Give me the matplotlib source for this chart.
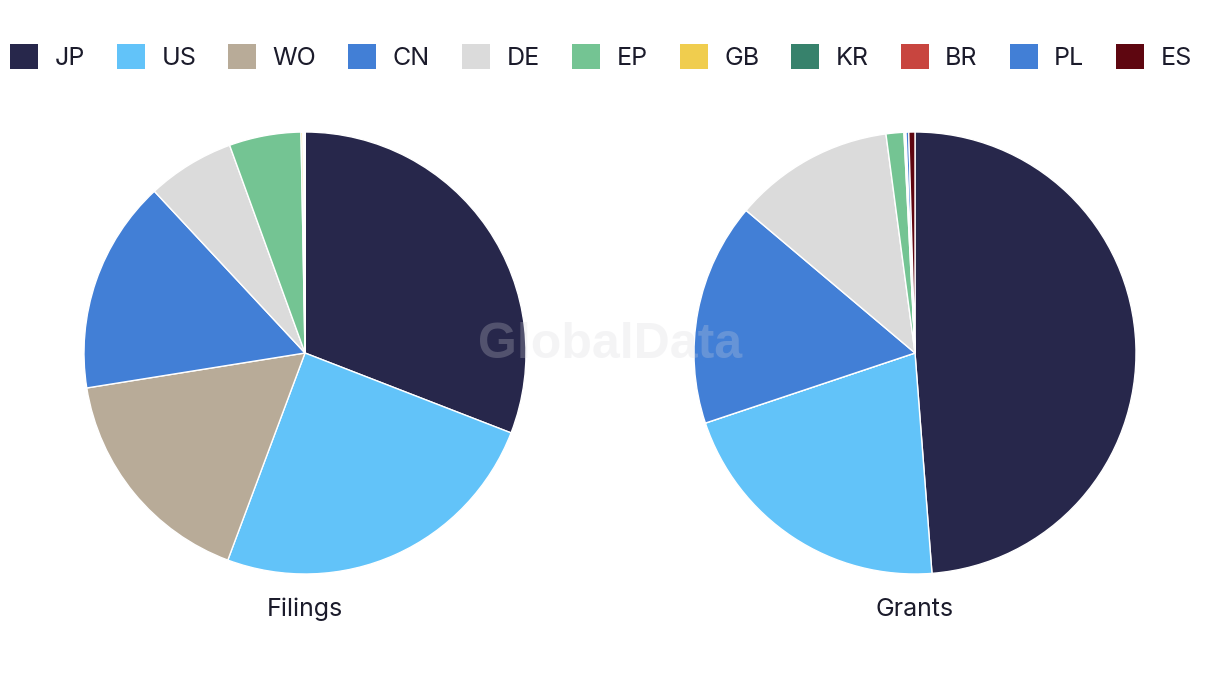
import matplotlib.pyplot as plt
from matplotlib.patches import Patch

# Share of patents by country (%)
countries = ["JP", "US", "WO", "CN", "DE", "EP", "GB", "KR", "BR", "PL", "ES"]
filings = [30.9, 24.8, 16.8, 15.6, 6.4, 5.25, 0.15, 0.02, 0.1, 0.02, 0.0]
grants = [48.8, 21.1, 0.0, 16.3, 11.75, 1.3, 0.1, 0.05, 0.0, 0.2, 0.45]
pie_titles = ["Filings", "Grants"]

colors = ["#27274b", "#62c3f9", "#b8ab98", "#427fd6", "#dbdbdb", "#74c493",
          "#f0cd4e", "#37826c", "#c8453f", "#427fd6", "#5e0610"]

plt.rcParams["font.family"] = ["Inter", "DejaVu Sans"]

W, H = 1220, 686
fig = plt.figure(figsize=(W / 100, H / 100), dpi=100)

r = 221
for cx, values, title in [(305, filings, pie_titles[0]), (915, grants, pie_titles[1])]:
    ax = fig.add_axes([(cx - r) / W, (H - 353 - r) / H, 2 * r / W, 2 * r / H])
    ax.pie(values, colors=colors, startangle=90, counterclock=False,
           wedgeprops=dict(edgecolor="white", linewidth=1.0))
    ax.set_xlim(-1.0, 1.0)
    ax.set_ylim(-1.0, 1.0)
    ax.set_aspect("equal")
    ax.axis("off")
    fig.text(cx / W, 1 - 609 / H, title, ha="center", va="center",
             fontsize=18, color="#1b1b2b")

# watermark
fig.text(610 / W, 1 - 345 / H, "GlobalData", ha="center", va="center",
         fontsize=36, fontweight="bold", color="#d4d4da", alpha=0.25,
         family=["Liberation Sans", "DejaVu Sans"], zorder=10)

handles = [Patch(facecolor=c, edgecolor="none") for c in colors]
fig.legend(handles, countries, loc="center", bbox_to_anchor=(601 / W, 1 - 57 / H),
           ncol=len(countries), frameon=False, fontsize=18,
           handlelength=1.12, handleheight=1.12, handletextpad=0.66,
           columnspacing=1.28, labelcolor="#1b1b2b")

fig.savefig("out.png", dpi=100, facecolor="white")
